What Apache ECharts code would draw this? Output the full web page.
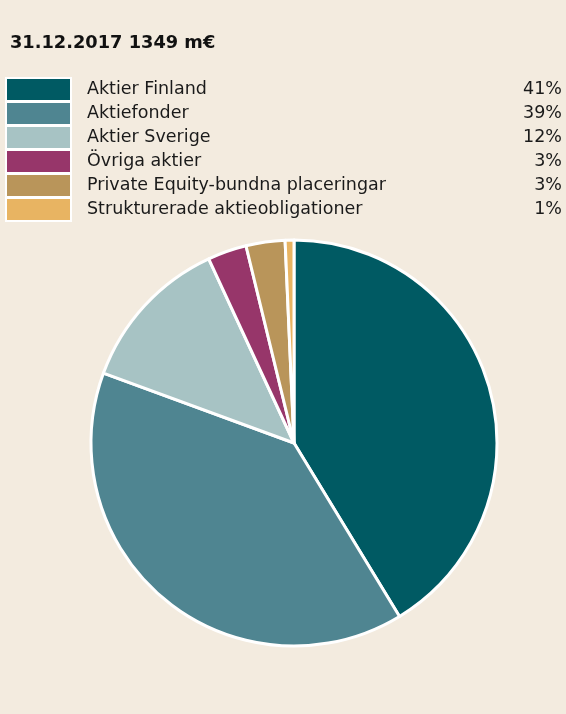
<!DOCTYPE html>
<html>
<head>
<meta charset="utf-8">
<script src="https://cdn.jsdelivr.net/npm/echarts@6/dist/echarts.min.js"></script>
<style>
  html, body { margin: 0; padding: 0; background: #f3ebdf; }
  #chart { width: 566px; height: 714px; }
</style>
</head>
<body>
<div id="chart"></div>
<script>
  // data
  var categories = ['Aktier Finland', 'Aktiefonder', 'Aktier Sverige', 'Övriga aktier', 'Private Equity-bundna placeringar', 'Strukturerade aktieobligationer']
  var shares = [41.3, 39.3, 12.5, 3.1, 3.1, 0.7]
  var shareLabels = ['41%', '39%', '12%', '3%', '3%', '1%']
  var colors = ['#005a63', '#4f8591', '#a7c3c4', '#97366a', '#b9955a', '#e8b462']

  var myChart = echarts.init(document.getElementById('chart'))

  var font = 'DejaVu Sans'
  myChart.setOption({
    backgroundColor: '#f3ebdf',
    color: colors,
    title: {
      text: '31.12.2017 1349 m€',
      left: 10,
      top: 34,
      padding: 0,
      textStyle: {
        fontFamily: font,
        fontWeight: 'bold',
        fontSize: 17.8,
        color: '#111'
      }
    },
    graphic: [{
      // white frame behind legend swatches
      type: 'rect',
      z: -1,
      shape: { x: 5, y: 77, width: 67, height: 145 },
      style: { fill: '#ffffff' }
    }],
    legend: {
      orient: 'vertical',
      left: 7,
      top: 79,
      padding: 0,
      itemWidth: 63,
      itemHeight: 21,
      itemGap: 3,
      icon: 'rect',
      itemStyle: { borderWidth: 0 },
      selectedMode: false,
      data: categories,
      formatter: function (name) {
        var i = categories.indexOf(name)
        return '{s|}{n|' + name + '}{p|' + shareLabels[i] + '}'
      },
      textStyle: {
        color: '#1a1a1a',
        fontFamily: font,
        fontSize: 17.5,
        lineHeight: 21,
        rich: {
          s: { width: 12, lineHeight: 21 },
          n: { width: 430, fontSize: 17.5, lineHeight: 21, fontFamily: font, color: '#1a1a1a' },
          p: { width: 45, align: 'right', fontSize: 17.5, lineHeight: 21, fontFamily: font, color: '#1a1a1a' }
        }
      }
    },
    series: [{
      type: 'pie',
      center: [294, 443],
      radius: 203,
      startAngle: 90,
      clockwise: true,
      silent: true,
      label: { show: false },
      labelLine: { show: false },
      itemStyle: { borderColor: '#ffffff', borderWidth: 3 },
      data: categories.map(function (c, i) {
        return { name: c, value: shares[i] }
      })
    }]
  })
</script>
</body>
</html>
